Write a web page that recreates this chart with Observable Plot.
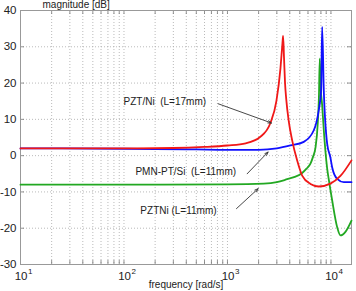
<!DOCTYPE html>
<html>
<head>
<meta charset="utf-8">
<script src="https://cdn.jsdelivr.net/npm/d3@7"></script>
<script src="https://cdn.jsdelivr.net/npm/@observablehq/plot@0.6"></script>
<style>
  body { margin: 0; background: #fff; }
  #chart svg { display: block; overflow: visible; }
  #chart text { white-space: pre; }
</style>
</head>
<body>
<div id="chart"></div>
<script>
// Magnitude response of three cantilever samples, frequency in rad/s, magnitude in dB.
const pztNiFreq = [10, 30, 100, 300, 600, 1000, 1500, 2080, 2600, 2970, 3250, 3400, 3450, 3520, 3600, 3700, 3910, 4220, 4710, 5270, 6340, 7620, 9880, 12350, 15800];
const pztNiDb   = [2.0, 2.0, 2.0, 2.1, 2.4, 2.8, 3.4, 5.2, 9.0, 15.0, 24.0, 31.0, 33.0, 27.0, 20.0, 15.5, 9.5, 4.2, -1.3, -5.5, -7.8, -8.5, -7.7, -5.6, -1.3];

const pmnFreq = [10, 100, 500, 1000, 2000, 3000, 4060, 5460, 6830, 7620, 8040, 8220, 8530, 9190, 9880, 10270, 11480, 13300, 15800];
const pmnDb   = [2.0, 1.9, 1.7, 1.6, 1.6, 2.0, 2.8, 3.8, 7.0, 12.5, 18.0, 35.5, 18.0, 3.3, -0.5, -3.2, -6.4, -7.3, -7.3];

const pztniFreq = [10, 100, 1000, 2240, 3000, 3780, 4320, 5270, 5800, 6340, 6730, 7090, 7460, 7650, 7800, 7950, 8220, 8530, 9190, 9520, 10270, 11480, 12360, 13800, 15800];
const pztniDb   = [-8.0, -8.0, -7.9, -7.7, -7.3, -6.5, -6.0, -4.8, -3.6, -2.2, -0.2, 2.2, 9.0, 16.0, 26.7, 19.0, 14.0, 7.0, -3.5, -6.5, -12.3, -19.7, -22.0, -21.0, -17.9];

// Axis values
const yTicks = [-30, -20, -10, 0, 10, 20, 30, 40];
const xDecadeExps = [1, 2, 3, 4];
const xMultiples = [1, 2, 3, 4, 5, 6, 7, 8, 9];

// Annotations: label text, label anchor (freq, dB), arrow start and arrow tip
const labelTexts = ["PZT/Ni  (L=17mm)", "PMN-PT/Si  (L=11mm)", "PZTNi (L=11mm)"];
const labelFreq  = [99, 129, 144];
const labelDb    = [14.9, -4.35, -15.3];
const arrowFromFreq = [813, 1550, 1222];
const arrowFromDb   = [14.3, -5.0, -14.6];
const arrowToFreq   = [2660, 2470, 1980];
const arrowToDb     = [9.0, 1.0, -9.1];

const series = [
  {name: "PZTNi (L=11mm)", freq: pztniFreq, db: pztniDb, color: "#22a822"},
  {name: "PMN-PT/Si (L=11mm)", freq: pmnFreq, db: pmnDb, color: "#1010ff"},
  {name: "PZT/Ni (L=17mm)", freq: pztNiFreq, db: pztNiDb, color: "#f01818"}
];

const xDomain = [10, 15800];
const xDecades = xDecadeExps.map(e => 10 ** e);
const xGrid = xDecades.flatMap(d => xMultiples.map(m => m * d)).filter(v => v <= xDomain[1]);

const annotations = labelTexts.map((t, i) => ({
  text: t, x: labelFreq[i], y: labelDb[i],
  x1: arrowFromFreq[i], y1: arrowFromDb[i], x2: arrowToFreq[i], y2: arrowToDb[i]
}));

const font = "'Liberation Sans', Arial, Helvetica, sans-serif";

const chart = Plot.plot({
  width: 356,
  height: 291,
  marginLeft: 20,
  marginRight: 5,
  marginTop: 10,
  marginBottom: 27,
  style: {fontFamily: font, fontSize: "11px", color: "#222", background: "#fff"},
  x: {type: "log", domain: xDomain, axis: null},
  y: {domain: [-30, 40], axis: null},
  marks: [
    // dotted grid
    Plot.ruleX(xGrid.filter(v => v > xDomain[0]), {stroke: "#a8a8a8", strokeWidth: 0.8, strokeDasharray: "1,2"}),
    Plot.ruleY(yTicks.filter(v => v > -30 && v < 40), {stroke: "#a8a8a8", strokeWidth: 0.8, strokeDasharray: "1,2"}),
    // inward ticks on all four sides
    Plot.tickX(xGrid, {x: d => d, insetBottom: 250, stroke: "#777", strokeWidth: 0.8}),
    Plot.tickX(xGrid, {x: d => d, insetTop: 250, stroke: "#777", strokeWidth: 0.8}),
    Plot.tickY(yTicks, {y: d => d, insetRight: 327, stroke: "#777", strokeWidth: 0.8}),
    Plot.tickY(yTicks, {y: d => d, insetLeft: 327, stroke: "#777", strokeWidth: 0.8}),
    Plot.frame({stroke: "#999", strokeWidth: 1}),
    // response curves
    ...series.map(s => Plot.line(s.freq.map((f, i) => ({f, v: s.db[i]})), {
      x: "f", y: "v", stroke: s.color, strokeWidth: 1.8, curve: "monotone-x"
    })),
    // y tick labels
    Plot.text(yTicks, {
      x: xDomain[0], y: d => d, text: d => String(d), textAnchor: "end", dx: -4, fontSize: 11.5, fill: "#222"
    }),
    // x tick labels: 10 with a raised exponent
    Plot.text(xDecadeExps, {
      x: e => 10 ** e, y: -30, text: () => "10", textAnchor: "end", dx: 7, dy: 11.5, fontSize: 11.5, fill: "#222"
    }),
    Plot.text(xDecadeExps, {
      x: e => 10 ** e, y: -30, text: e => String(e), textAnchor: "start", dx: 7.5, dy: 6.5, fontSize: 8, fill: "#222"
    }),
    // axis titles
    Plot.text(["magnitude [dB]"], {frameAnchor: "top-left", textAnchor: "start", dx: 22, dy: -10, fontSize: 10, fill: "#222"}),
    Plot.text(["frequency [rad/s]"], {frameAnchor: "bottom", dy: 23, fontSize: 10, fill: "#222"}),
    // annotations
    Plot.arrow(annotations, {x1: "x1", y1: "y1", x2: "x2", y2: "y2", stroke: "#333", strokeWidth: 0.9, headLength: 6, headAngle: 40}),
    Plot.text(annotations, {x: "x", y: "y", text: "text", textAnchor: "start", fontSize: 10, fill: "#222"})
  ]
});

document.getElementById("chart").append(chart);
</script>
</body>
</html>
